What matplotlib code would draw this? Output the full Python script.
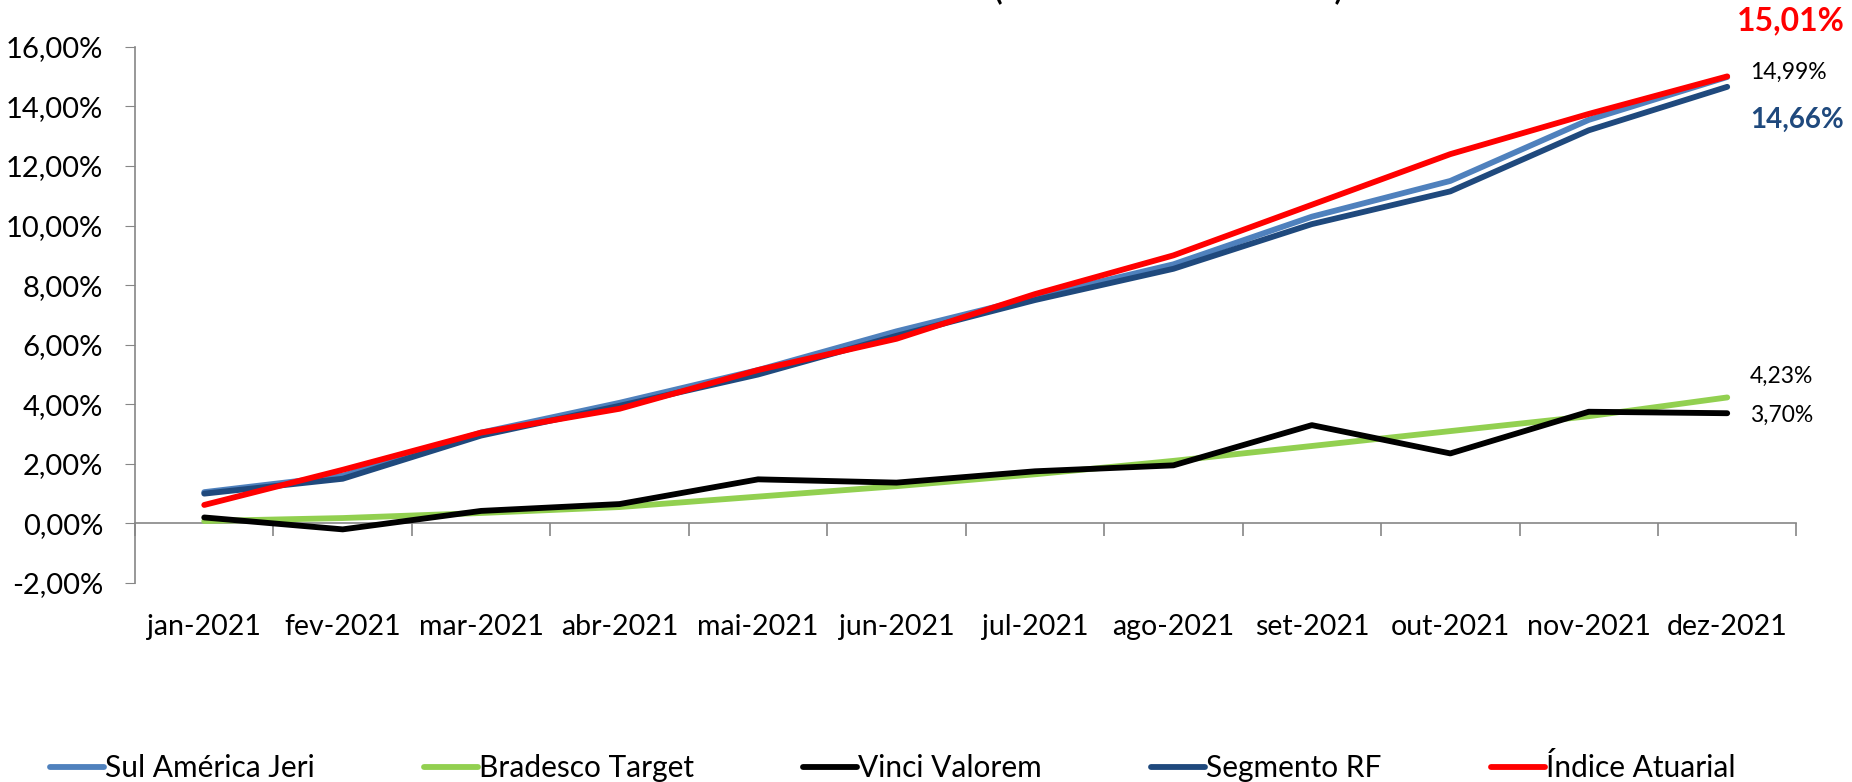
import numpy as np
import matplotlib.pyplot as plt
from matplotlib.ticker import FuncFormatter

plt.rcParams['font.family'] = ['Lato', 'DejaVu Sans']

meses = ['jan-2021', 'fev-2021', 'mar-2021', 'abr-2021', 'mai-2021', 'jun-2021',
         'jul-2021', 'ago-2021', 'set-2021', 'out-2021', 'nov-2021', 'dez-2021']

# rentabilidade acumulada no ano (%)
sul_america_jeri = [1.05, 1.60, 3.05, 4.05, 5.15, 6.45, 7.60, 8.70, 10.30, 11.50, 13.55, 14.99]
bradesco_target = [0.08, 0.18, 0.35, 0.55, 0.90, 1.25, 1.65, 2.10, 2.60, 3.10, 3.60, 4.23]
vinci_valorem = [0.20, -0.20, 0.42, 0.65, 1.48, 1.37, 1.75, 1.95, 3.30, 2.35, 3.75, 3.70]
segmento_rf = [1.00, 1.50, 2.95, 3.95, 5.00, 6.30, 7.50, 8.55, 10.05, 11.15, 13.20, 14.66]
indice_atuarial = [0.62, 1.80, 3.05, 3.85, 5.15, 6.20, 7.70, 9.00, 10.70, 12.40, 13.75, 15.01]

series = [
    ('Sul América Jeri', sul_america_jeri, '#4F81BD'),
    ('Bradesco Target', bradesco_target, '#92D050'),
    ('Vinci Valorem', vinci_valorem, '#000000'),
    ('Segmento RF', segmento_rf, '#1F497D'),
    ('Índice Atuarial', indice_atuarial, '#FF0000'),
]

fig = plt.figure(figsize=(18.52, 7.82), dpi=100)
ax = fig.add_axes([0.0729, 0.2545, 0.8971, 0.6855])

x = np.arange(len(meses))
for nome, vals, cor in series:
    ax.plot(x, vals, color=cor, lw=4.2, solid_capstyle='round', label=nome)

ax.set_xlim(-0.5, len(meses) - 0.5)
ax.set_ylim(-2, 16)
ax.set_yticks(np.arange(-2, 17, 2))
ax.yaxis.set_major_formatter(FuncFormatter(lambda v, p: f'{v:.2f}%'.replace('.', ',')))
ax.tick_params(axis='y', length=7, color='#868686', labelsize=21, pad=16)

ax.set_xticks(x, meses)
ax.tick_params(axis='x', length=0, labelsize=20.5, pad=22)

for s in ['top', 'right', 'bottom']:
    ax.spines[s].set_visible(False)
ax.spines['left'].set_color('#868686')
ax.spines['left'].set_linewidth(1.2)

# eixo horizontal no zero com marcas entre categorias
eixo0 = ax.secondary_xaxis(2 / 18)
eixo0.set_xticks(np.arange(-0.5, len(meses), 1.0), [''] * (len(meses) + 1))
eixo0.tick_params(length=9, color='#868686', width=1.2)
eixo0.spines['bottom'].set_color('#868686')
eixo0.spines['bottom'].set_linewidth(1.2)

# rótulos de valor no último mês
ult = len(meses) - 1
ax.annotate('15,01%', (ult, indice_atuarial[-1]), xytext=(64, 56), textcoords='offset pixels',
            ha='center', va='center', fontsize=23, fontweight='bold', color='#FF0000')
ax.annotate('14,99%', (ult, sul_america_jeri[-1]), xytext=(23, 5), textcoords='offset pixels',
            ha='left', va='center', fontsize=16.5, color='black')
ax.annotate('14,66%', (ult, segmento_rf[-1]), xytext=(23, -33), textcoords='offset pixels',
            ha='left', va='center', fontsize=20, fontweight='bold', color='#1F497D')
ax.annotate('4,23%', (ult, bradesco_target[-1]), xytext=(23, 21), textcoords='offset pixels',
            ha='left', va='center', fontsize=16.5, color='black')
ax.annotate('3,70%', (ult, vinci_valorem[-1]), xytext=(23, -2), textcoords='offset pixels',
            ha='left', va='center', fontsize=16.5, color='black')

fig.text(0.5089, 1.0 + 1 / 782, 'RENTABILIDADE ACUMULADA (ACUMULADO EM 2021)', ha='center',
         va='baseline', fontsize=22, fontweight='bold')

fig.legend(loc='lower left', bbox_to_anchor=(50 / 1852, 0.0), ncol=5,
           frameon=False, fontsize=21.5, handlelength=1.8, handletextpad=0.05,
           columnspacing=3.65, borderpad=0.0, borderaxespad=0.0)

fig.savefig('out.png', dpi=100)
